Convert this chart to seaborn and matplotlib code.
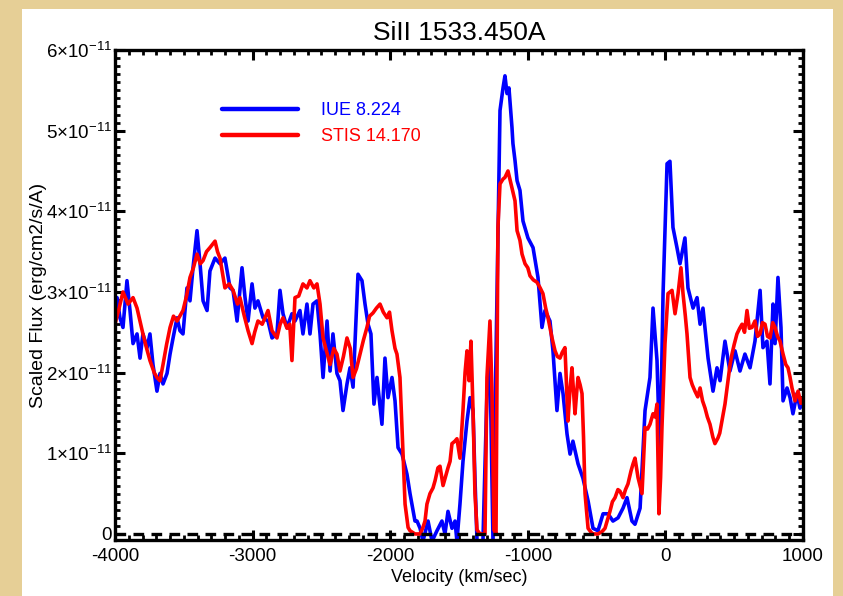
import matplotlib
matplotlib.use("Agg")
import matplotlib.pyplot as plt
from matplotlib.patches import Rectangle
from matplotlib.ticker import MultipleLocator, FuncFormatter
import numpy as np
import pandas as pd
import seaborn as sns

# ---------------------------------------------------------------- data
TITLE = "SiII 1533.450A"
X_LABEL = "Velocity (km/sec)"
Y_LABEL = "Scaled Flux (erg/cm2/s/A)"
IUE_LABEL = "IUE 8.224"
STIS_LABEL = "STIS 14.170"
FLUX_UNIT = 1e-11

x_ticks = [-4000, -3000, -2000, -1000, 0, 1000]
y_ticks = [0, 1, 2, 3, 4, 5, 6]   # in units of 1e-11

iue_velocity = [
    -4000, -3985, -3964, -3942, -3913, -3891, -3869, -3840, -3818, -3797,
    -3767, -3746, -3724, -3695, -3673, -3651, -3622, -3600, -3578, -3549,
    -3528, -3506, -3477, -3455, -3433, -3404, -3382, -3360, -3331, -3310,
    -3273, -3237, -3201, -3164, -3142, -3113, -3077, -3055, -3033, -3004,
    -2983, -2961, -2924, -2888, -2859, -2823, -2801, -2779, -2750, -2714,
    -2692, -2656, -2634, -2605, -2583, -2561, -2532, -2510, -2488, -2459,
    -2437, -2416, -2387, -2365, -2343, -2314, -2292, -2270, -2234, -2205,
    -2183, -2161, -2140, -2118, -2096, -2060, -2038, -2016, -1987, -1965,
    -1943, -1914, -1878, -1856, -1820, -1805, -1783, -1762, -1725, -1696,
    -1660, -1624, -1602, -1580, -1551, -1529, -1515, -1493, -1471, -1442,
    -1420, -1398, -1384, -1369, -1326, -1297, -1275, -1253, -1224, -1202,
    -1180, -1166, -1151, -1137, -1115, -1108, -1093, -1078, -1057, -1035,
    -999, -962, -926, -897, -875, -839, -817, -788, -766, -744,
    -715, -693, -672, -635, -599, -562, -526, -490, -453, -417,
    -381, -344, -308, -279, -243, -221, -184, -148, -112, -90,
    -61, -39, -17, 12, 33, 55, 84, 106, 142, 164,
    201, 230, 252, 273, 310, 346, 375, 397, 433, 469,
    506, 542, 578, 615, 651, 688, 709, 738, 760, 782,
    797, 818, 840, 855, 884, 906, 927, 956, 978, 1000,
]
iue_flux = [
    2.80, 2.93, 2.68, 2.56, 3.14, 2.77, 2.36, 2.48, 2.18, 2.48,
    2.31, 2.48, 2.10, 1.77, 1.99, 1.86, 1.99, 2.23, 2.43, 2.68,
    2.52, 2.48, 3.05, 2.89, 3.30, 3.76, 3.35, 2.89, 2.77, 3.26,
    3.42, 3.35, 3.42, 3.05, 3.02, 2.64, 3.30, 2.93, 2.64, 3.10,
    2.80, 2.89, 2.68, 2.64, 2.43, 2.48, 3.02, 2.73, 2.56, 2.73,
    2.64, 2.77, 2.48, 2.85, 2.48, 2.85, 2.89, 2.48, 1.94, 2.64,
    2.02, 2.48, 1.99, 1.90, 1.53, 1.86, 2.06, 1.82, 3.22, 3.14,
    2.85, 2.60, 2.48, 1.61, 1.94, 1.36, 2.18, 1.69, 1.94, 1.65,
    1.07, 0.99, 0.74, 0.50, 0.16, 0.16, 0.07, -0.09, 0.16, -0.09,
    0.04, 0.16, 0.00, 0.28, 0.07, 0.16, -0.09, 0.37, 0.90, 1.40,
    1.69, 1.53, 0.69, -0.09, -0.09, 1.74, 2.15, -0.09, 2.98, 5.25,
    5.53, 5.68, 5.46, 5.53, 5.04, 4.84, 4.63, 4.38, 4.26, 3.88,
    3.67, 3.55, 3.18, 2.56, 2.77, 2.64, 2.27, 1.53, 1.99, 1.74,
    1.24, 0.99, 1.15, 0.87, 0.69, 0.41, 0.07, 0.04, 0.25, 0.25,
    0.16, 0.20, 0.32, 0.45, 0.16, 0.12, 0.32, 1.53, 1.94, 2.80,
    2.15, 0.90, 2.98, 4.59, 4.62, 3.80, 3.55, 3.35, 3.67, 3.05,
    2.80, 2.93, 2.60, 2.80, 2.18, 1.77, 2.06, 1.90, 2.39, 2.02,
    2.27, 2.02, 2.23, 2.06, 2.39, 3.02, 2.31, 2.39, 1.86, 2.85,
    2.36, 3.18, 2.56, 1.65, 1.81, 1.69, 1.49, 1.74, 1.56, 1.65,
]

stis_velocity = [
    -4000, -3970, -3942, -3905, -3869, -3840, -3797, -3770, -3746, -3715,
    -3695, -3673, -3651, -3625, -3600, -3575, -3549, -3506, -3480, -3455,
    -3430, -3404, -3380, -3360, -3335, -3310, -3273, -3255, -3237, -3201,
    -3170, -3142, -3110, -3092, -3060, -3033, -3004, -2985, -2961, -2930,
    -2888, -2859, -2823, -2800, -2779, -2750, -2730, -2714, -2692, -2665,
    -2634, -2605, -2583, -2555, -2532, -2510, -2488, -2460, -2437, -2410,
    -2387, -2365, -2340, -2314, -2290, -2270, -2245, -2219, -2195, -2169,
    -2150, -2125, -2100, -2074, -2050, -2023, -2005, -1987, -1965, -1951,
    -1929, -1907, -1892, -1870, -1856, -1820, -1783, -1762, -1747, -1733,
    -1711, -1689, -1674, -1653, -1638, -1616, -1600, -1580, -1565, -1551,
    -1530, -1515, -1493, -1471, -1456, -1442, -1427, -1413, -1398, -1384,
    -1369, -1347, -1311, -1297, -1275, -1260, -1246, -1231, -1217, -1202,
    -1180, -1166, -1144, -1130, -1115, -1093, -1078, -1057, -1042, -1020,
    -1000, -984, -960, -933, -910, -890, -870, -853, -824, -802,
    -785, -766, -750, -730, -708, -693, -679, -665, -657, -645,
    -635, -620, -606, -595, -584, -562, -540, -526, -490, -460,
    -439, -420, -403, -385, -366, -345, -330, -308, -290, -272,
    -250, -235, -221, -199, -170, -148, -130, -112, -90, -75,
    -61, -47, -35, -25, -3, 19, 48, 70, 92, 113,
    128, 145, 157, 179, 195, 215, 235, 252, 270, 288,
    305, 324, 345, 360, 382, 395, 411, 433, 455, 470,
    484, 500, 520, 540, 557, 575, 593, 610, 629, 651,
    670, 688, 705, 724, 742, 760, 780, 797, 815, 833,
    855, 875, 891, 905, 920, 942, 964, 985, 1000,
]
stis_flux = [
    2.60, 2.80, 3.00, 2.85, 2.93, 2.80, 2.48, 2.30, 2.15, 2.00,
    1.94, 1.90, 2.10, 2.35, 2.56, 2.70, 2.64, 2.77, 2.95, 3.18,
    3.30, 3.47, 3.35, 3.39, 3.50, 3.55, 3.63, 3.50, 3.42, 3.05,
    3.10, 3.02, 2.85, 2.93, 2.70, 2.52, 2.36, 2.50, 2.64, 2.60,
    2.77, 2.52, 2.43, 2.60, 2.68, 2.55, 2.60, 2.15, 2.93, 2.95,
    3.10, 3.05, 3.14, 3.05, 3.10, 2.85, 2.43, 2.25, 2.10, 2.30,
    2.23, 2.02, 2.20, 2.43, 2.30, 1.94, 2.05, 2.23, 2.40, 2.56,
    2.70, 2.74, 2.80, 2.85, 2.75, 2.68, 2.75, 2.52, 2.30, 2.23,
    1.94, 0.99, 0.37, 0.08, 0.04, 0.00, 0.00, 0.08, 0.16, 0.37,
    0.50, 0.57, 0.66, 0.82, 0.84, 0.60, 0.70, 0.82, 0.90, 1.12,
    1.15, 1.18, 0.94, 1.53, 2.00, 2.27, 1.90, 2.39, 1.53, 0.50,
    0.05, 0.00, 0.00, 1.94, 2.64, 1.74, 0.05, 0.00, 3.80, 4.34,
    4.40, 4.42, 4.50, 4.40, 4.29, 4.13, 3.76, 3.64, 3.47, 3.35,
    3.30, 3.20, 3.15, 3.12, 3.05, 2.98, 2.80, 2.68, 2.43, 2.27,
    2.20, 2.18, 2.25, 2.31, 1.40, 1.80, 2.06, 1.70, 1.49, 1.75,
    1.94, 1.85, 1.74, 1.20, 0.50, 0.07, 0.02, 0.00, 0.00, 0.03,
    0.07, 0.18, 0.28, 0.40, 0.45, 0.55, 0.53, 0.45, 0.55, 0.62,
    0.78, 0.87, 0.94, 0.70, 0.50, 1.32, 1.30, 1.36, 1.49, 1.45,
    1.61, 0.25, 0.70, 1.32, 2.36, 2.98, 3.02, 2.73, 2.98, 3.30,
    2.98, 2.70, 2.48, 1.94, 1.85, 1.77, 1.70, 1.81, 1.65, 1.56,
    1.45, 1.36, 1.20, 1.12, 1.19, 1.25, 1.40, 1.61, 1.90, 2.10,
    2.23, 2.35, 2.48, 2.55, 2.60, 2.50, 2.77, 2.55, 2.56, 2.64,
    2.45, 2.48, 2.62, 2.60, 2.45, 2.43, 2.62, 2.56, 2.45, 2.39,
    2.23, 2.10, 2.06, 1.95, 1.81, 1.65, 1.77, 1.62, 1.69,
]

assert len(iue_velocity) == len(iue_flux)
assert len(stis_velocity) == len(stis_flux)

spectra = pd.concat([
    pd.DataFrame({"velocity": iue_velocity,
                  "flux": np.array(iue_flux) * FLUX_UNIT,
                  "instrument": IUE_LABEL}),
    pd.DataFrame({"velocity": stis_velocity,
                  "flux": np.array(stis_flux) * FLUX_UNIT,
                  "instrument": STIS_LABEL}),
], ignore_index=True)

# ---------------------------------------------------------------- style
sns.set_style("white")
plt.rcParams["font.family"] = ["Liberation Sans", "DejaVu Sans"]
plt.rcParams["mathtext.fontset"] = "custom"
plt.rcParams["mathtext.rm"] = "Liberation Sans"
plt.rcParams["mathtext.it"] = "Liberation Sans:italic"
plt.rcParams["mathtext.bf"] = "Liberation Sans:bold"
plt.rcParams["axes.unicode_minus"] = False
for key in ["text.color", "axes.labelcolor", "xtick.color", "ytick.color",
            "xtick.labelcolor", "ytick.labelcolor"]:
    plt.rcParams[key] = "black"

W, H = 843, 596
fig = plt.figure(figsize=(W / 100, H / 100), dpi=100, facecolor="#E6CF96")
# white sheet on the parchment, kept behind the axes
fig.patches.append(Rectangle((22 / W, 0), (833 - 22) / W, (596 - 9) / H,
                             transform=fig.transFigure, facecolor="white",
                             edgecolor="none", zorder=-10))

ax = fig.add_axes([115 / W, 1 - 540 / H, (803 - 115) / W, (540 - 50) / H])
ax.set_zorder(5)
ax.set_facecolor("white")

sns.lineplot(data=spectra, x="velocity", y="flux", hue="instrument",
             palette={IUE_LABEL: "#0000FF", STIS_LABEL: "#FF0000"},
             hue_order=[IUE_LABEL, STIS_LABEL], sort=False, estimator=None,
             linewidth=2.6, ax=ax, legend=True)

ax.axhline(0, color="black", lw=2.4, ls=(0, (3.2, 2.2)), zorder=5)

ax.set_xlim(-4000, 1000)
ax.set_ylim(-0.075 * FLUX_UNIT, 6 * FLUX_UNIT)
ax.set_xticks(x_ticks)
ax.set_yticks([t * FLUX_UNIT for t in y_ticks])
ax.xaxis.set_minor_locator(MultipleLocator(100))
ax.yaxis.set_minor_locator(MultipleLocator(0.1 * FLUX_UNIT))


def flux_label(val, pos):
    m = int(round(val / FLUX_UNIT))
    if m == 0:
        return "0"
    return r"$\mathdefault{%d{\times}10^{-11}}$" % m


ax.yaxis.set_major_formatter(FuncFormatter(flux_label))

for side in ["top", "bottom", "left", "right"]:
    ax.spines[side].set_visible(True)
    ax.spines[side].set_linewidth(2.4)
    ax.spines[side].set_color("black")

ax.tick_params(which="both", direction="in", top=True, right=True,
               bottom=True, left=True, color="black")
ax.tick_params(which="major", length=7.5, width=2.2)
ax.tick_params(which="minor", length=3.8, width=2.0)
ax.tick_params(axis="x", which="major", labelsize=13.5, pad=6)
ax.tick_params(axis="y", which="major", labelsize=13.5, pad=2)

ax.set_xlabel(X_LABEL, fontsize=13, labelpad=3, color="black")
ax.set_ylabel(Y_LABEL, fontsize=14, labelpad=-1, color="black")
ax.set_title(TITLE, fontsize=19, pad=7, color="black",
             fontfamily=["Liberation Sans Narrow", "Liberation Sans", "DejaVu Sans"])

leg = ax.legend(loc="upper left", bbox_to_anchor=((222 - 115) / 688, (540 - 102) / 490),
                frameon=False, fontsize=13, handlelength=4.2, handletextpad=1.3,
                labelspacing=0.5, borderpad=0, borderaxespad=0,
                labelcolor="linecolor")
for line in leg.get_lines():
    line.set_linewidth(3.2)

fig.savefig("out.png", dpi=100, facecolor=fig.get_facecolor())
